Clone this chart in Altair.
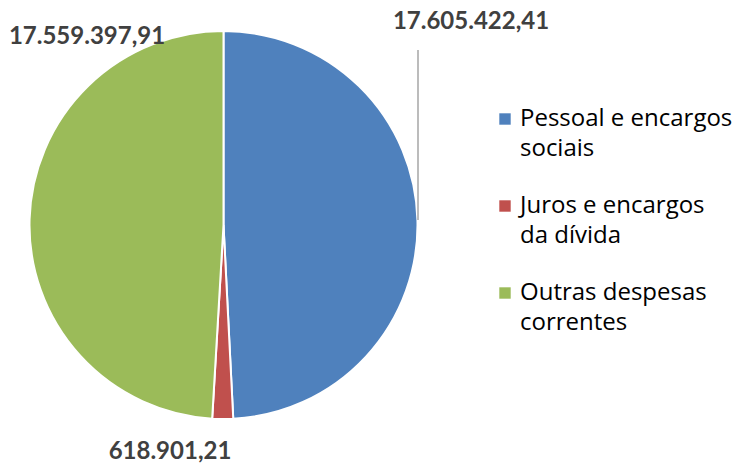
import altair as alt
import pandas as pd

categories = ["Pessoal e encargos sociais", "Juros e encargos da dívida", "Outras despesas correntes"]
values = [17605422.41, 618901.21, 17559397.91]
value_labels = ["17.605.422,41", "618.901,21", "17.559.397,91"]
colors = ["#4F81BD", "#C0504D", "#9BBB59"]
legend_lines = [["Pessoal e encargos", "sociais"], ["Juros e encargos", "da dívida"], ["Outras despesas", "correntes"]]

df = pd.DataFrame({"categoria": categories, "valor": values, "ordem": [0, 1, 2], "rotulo": value_labels})

label_expr = " : ".join(
    f"datum.label == '{c}' ? ['{l[0]}', '{l[1]}']" for c, l in zip(categories, legend_lines)
) + " : datum.label"

base = alt.Chart(df)

pie = base.mark_arc(outerRadius=194, stroke="white", strokeWidth=2).encode(
    theta=alt.Theta("valor:Q", stack=True),
    order=alt.Order("ordem:Q"),
    color=alt.Color(
        "categoria:N",
        scale=alt.Scale(domain=categories, range=colors),
        sort=categories,
        legend=alt.Legend(
            title=None,
            orient="none",
            legendX=485,
            legendY=99,
            symbolType="square",
            symbolSize=130,
            symbolStrokeWidth=0,
            labelFont="Open Sans",
            labelFontSize=24,
            labelColor="#000000",
            labelLimit=400,
            labelExpr=label_expr,
            labelBaseline="middle",
            labelOffset=3,
            rowPadding=33,
            padding=0,
        ),
    ),
)

def value_text(i, x, y):
    return alt.Chart(df).transform_filter(
        alt.datum.ordem == i
    ).mark_text(font="Lato", fontSize=24, fontWeight="bold", color="#404040").encode(
        text="rotulo:N", x=alt.value(x), y=alt.value(y)
    )

leader = alt.Chart(df).transform_filter(alt.datum.ordem == 0).mark_rule(
    color="#A6A6A6", strokeWidth=1.5
).encode(x=alt.value(410), y=alt.value(42), y2=alt.value(212))

chart = alt.layer(
    pie,
    leader,
    value_text(0, 463, 14),
    value_text(1, 162, 444),
    value_text(2, 79, 29),
).properties(width=431, height=434, padding=0).configure(
    style={"guide-label": {"lineHeight": 30}}
).configure_view(stroke=None)

chart.save("out.html", embed_options={"renderer": "svg", "actions": False})
